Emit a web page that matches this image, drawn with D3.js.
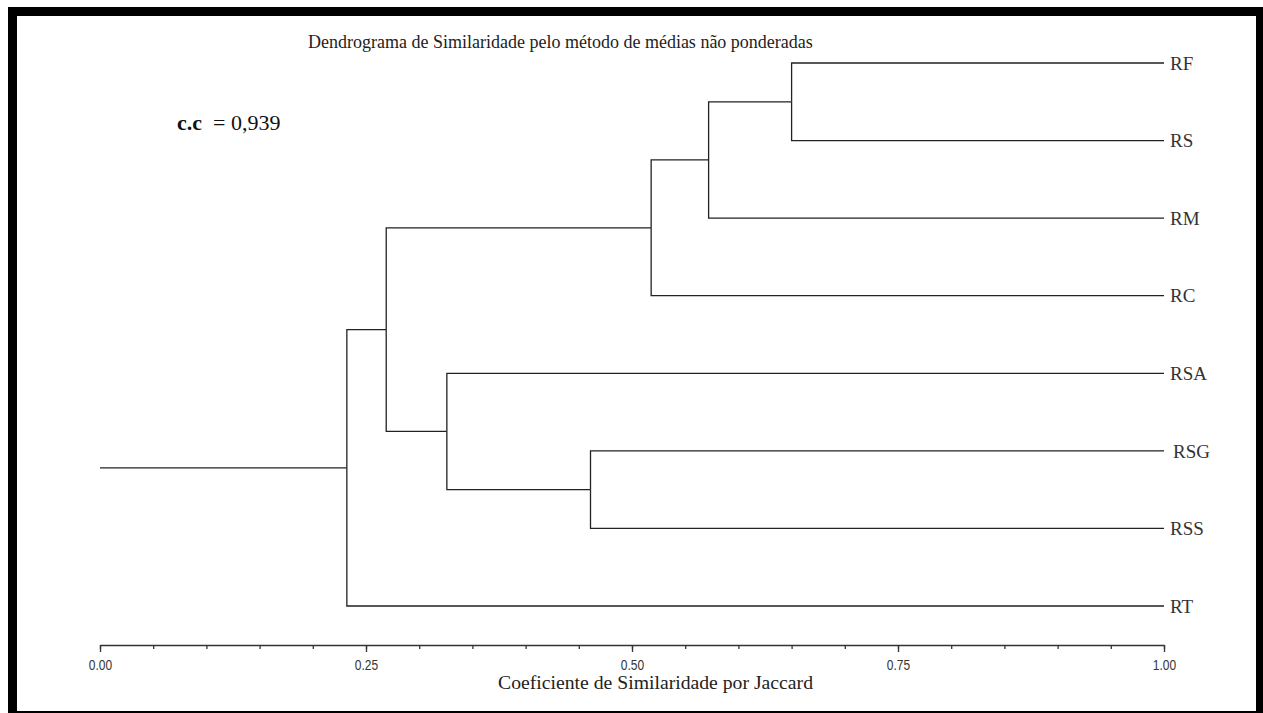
<!DOCTYPE html>
<html>
<head>
<meta charset="utf-8">
<script src="https://cdn.jsdelivr.net/npm/d3@7"></script>
<style>
  body { margin: 0; background: #fff; }
  svg { display: block; }
</style>
</head>
<body>
<svg width="1263" height="713"></svg>
<script>
// leaves top to bottom, merges in order (C1..C7), similarity of each merge
var leafNames = ["RF", "RS", "RM", "RC", "RSA", "RSG", "RSS", "RT"];
var mergePairs = [["RF", "RS"], ["C1", "RM"], ["C2", "RC"], ["RSG", "RSS"], ["RSA", "C4"], ["C3", "C5"], ["C6", "RT"]];
var mergeSimilarity = [0.650, 0.572, 0.518, 0.461, 0.326, 0.269, 0.232];
var majorTicks = [0, 0.25, 0.5, 0.75, 1];
var minorTicks = d3.range(0, 1.0001, 0.05);

var svg = d3.select("svg");
var serif = "'Liberation Serif', 'Times New Roman', serif";

// frame
svg.append("rect").attr("x", 8).attr("y", 7).attr("width", 1263).attr("height", 9).attr("fill", "#000");
svg.append("rect").attr("x", 8).attr("y", 7).attr("width", 9).attr("height", 713).attr("fill", "#000");
svg.append("rect").attr("x", 1256).attr("y", 7).attr("width", 7).attr("height", 713).attr("fill", "#000");
svg.append("rect").attr("x", 8).attr("y", 711).attr("width", 1263).attr("height", 2).attr("fill", "#000");

var x = d3.scaleLinear().domain([0, 1]).range([100, 1164]);
var y = d3.scalePoint().domain(leafNames).range([63, 606]);

// build node positions
var nodes = {};
leafNames.forEach(function (d) {
    nodes[d] = { x: x(1), y: y(d) };
});
var links = [];
mergePairs.forEach(function (p, i) {
    var a = nodes[p[0]], b = nodes[p[1]];
    var n = { x: x(mergeSimilarity[i]), y: (a.y + b.y) / 2 };
    nodes["C" + (i + 1)] = n;
    links.push({ parent: n, child: a });
    links.push({ parent: n, child: b });
});
var root = nodes["C" + mergePairs.length];

var lineColor = "#222";

svg.append("g").selectAll("path")
    .data(links)
    .enter().append("path")
    .attr("d", function (d) {
        return "M" + d.parent.x + "," + d.parent.y + "V" + d.child.y + "H" + d.child.x;
    })
    .attr("fill", "none")
    .attr("stroke", lineColor)
    .attr("stroke-width", 1.3);

// root stub
svg.append("line")
    .attr("x1", x(0)).attr("x2", root.x)
    .attr("y1", root.y).attr("y2", root.y)
    .attr("stroke", lineColor).attr("stroke-width", 1.3);

// leaf labels
svg.append("g").selectAll("text")
    .data(leafNames)
    .enter().append("text")
    .attr("x", function (d) { return d == "RSG" ? x(1) + 9 : x(1) + 6; })
    .attr("y", function (d) { return y(d); })
    .attr("dy", "0.35em")
    .style("font-family", serif)
    .style("font-size", "19px")
    .style("fill", "#333")
    .text(function (d) { return d; });

// axis
var axisY = 645;
var minorAxis = svg.append("g")
    .attr("transform", "translate(0," + axisY + ")")
    .call(d3.axisBottom(x).tickValues(minorTicks).tickSize(4).tickFormat(""));
minorAxis.select(".domain").remove();

var majorAxis = svg.append("g")
    .attr("transform", "translate(0," + axisY + ")")
    .call(d3.axisBottom(x).tickValues(majorTicks).tickSizeInner(7).tickSizeOuter(0)
        .tickPadding(7).tickFormat(d3.format(".2f")));

svg.selectAll(".tick line, .domain").attr("stroke", "#333").attr("stroke-width", 1.3);
majorAxis.selectAll("text")
    .attr("transform", "scale(0.8,1)")
    .style("font-family", "'Liberation Sans', Arial, sans-serif")
    .style("font-size", "15px")
    .style("fill", "#333");

// texts
svg.append("text")
    .attr("x", 498).attr("y", 689)
    .attr("textLength", 315)
    .attr("lengthAdjust", "spacingAndGlyphs")
    .style("font-family", serif)
    .style("font-size", "19.5px")
    .style("fill", "#222")
    .text("Coeficiente de Similaridade por Jaccard");

svg.append("text")
    .attr("x", 308).attr("y", 48)
    .style("font-family", serif)
    .style("font-size", "18px")
    .style("fill", "#222")
    .text("Dendrograma de Similaridade pelo método de médias não ponderadas");

var cc = svg.append("text")
    .attr("x", 177).attr("y", 130)
    .style("font-family", serif)
    .style("font-size", "22px")
    .style("fill", "#111");
cc.append("tspan").style("font-weight", "bold").text("c.c");
cc.append("tspan").attr("xml:space", "preserve").text("  = 0,939");
</script>
</body>
</html>
